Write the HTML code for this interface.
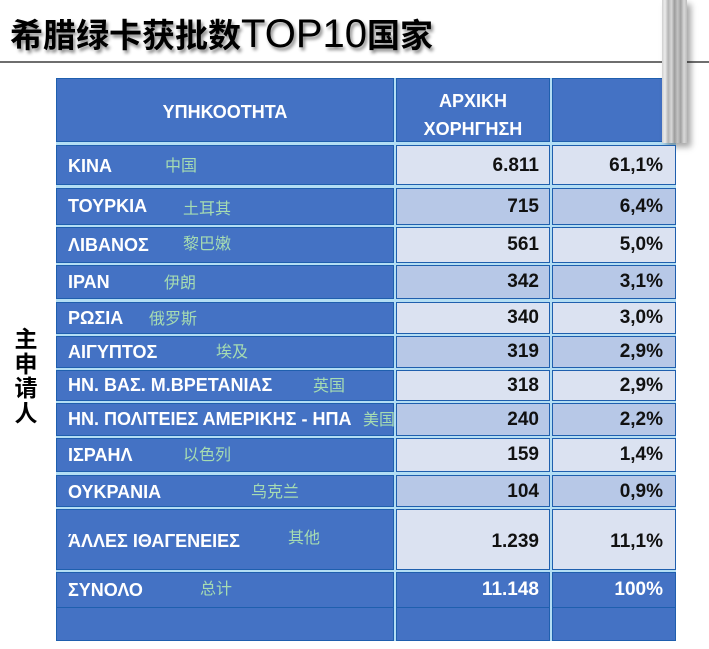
<!DOCTYPE html>
<html><head><meta charset="utf-8">
<style>
html,body{margin:0;padding:0;}
body{width:709px;height:649px;position:relative;background:#fff;overflow:hidden;font-family:"Liberation Sans","Noto Sans CJK SC",sans-serif;}
.abs{position:absolute;}
.title{left:10px;top:9px;height:48px;white-space:nowrap;color:#000;text-shadow:2px 3px 3px rgba(0,0,0,0.45);}
.title .cj{font-family:"Noto Sans CJK SC","WenQuanYi Zen Hei",sans-serif;font-weight:bold;font-size:33px;line-height:48px;}
.title .la{font-family:"Liberation Sans",sans-serif;font-size:40px;line-height:48px;}
.hline{left:0;top:61px;width:709px;height:2px;background:#6e6e6e;}
.bar{left:662px;top:0;width:25px;height:143px;background:linear-gradient(to right,#cfcfcf 0%,#ececec 12%,#b4b4b4 25%,#d8d8d8 38%,#9c9c9c 50%,#c4c4c4 62%,#a2a2a2 75%,#d9d9d9 88%,#bcbcbc 100%);box-shadow:4px 4px 6px rgba(0,0,0,0.35);}
.tbl{left:56px;top:78px;width:620px;height:563px;background:#b3def4;}
.c{position:absolute;box-sizing:border-box;border:1.5px solid #1f5fae;}
.b{background:#4472c4;}
.l{background:#dbe2f1;}
.d{background:#b7c8e7;}
.g{position:absolute;color:#fff;font-weight:bold;font-size:18px;white-space:nowrap;}
.z{position:absolute;color:#a6dcb2;font-size:16px;white-space:nowrap;font-family:"Liberation Sans","Noto Sans CJK SC",sans-serif;margin-top:2px;}
.n{position:absolute;color:#111;font-weight:bold;font-size:19px;text-align:right;white-space:nowrap;}
.w{color:#fff;}
.vert{left:14px;top:325px;width:24px;font-family:"Noto Sans CJK SC",sans-serif;font-size:23px;line-height:24.5px;color:#000;text-align:center;font-weight:bold;}
.hd{position:absolute;color:#fff;font-weight:bold;font-size:18px;text-align:center;}
</style></head><body>

<div class="abs title"><span class="cj">希腊绿卡获批数</span><span class="la">TOP10</span><span class="cj">国家</span></div>
<div class="abs hline"></div>

<div class="abs vert">主<br>申<br>请<br>人</div>

<div class="abs tbl"></div>

<!-- header -->
<div class="c b" style="left:56px;top:78px;width:338px;height:64px;"></div>
<div class="c b" style="left:396px;top:78px;width:154px;height:64px;"></div>
<div class="c b" style="left:552px;top:78px;width:124px;height:64px;"></div>
<div class="hd" style="left:56px;top:101px;width:338px;line-height:22px;">ΥΠΗΚΟΟΤΗΤΑ</div>
<div class="hd" style="left:396px;top:87px;width:154px;line-height:28px;">ΑΡΧΙΚΗ<br>ΧΟΡΗΓΗΣΗ</div>

<div class="abs bar"></div>

<!-- rows -->
<div class="c b" style="left:56px;top:145px;width:338px;height:40px;"></div>
<div class="c l" style="left:396px;top:145px;width:154px;height:40px;"></div>
<div class="c l" style="left:552px;top:145px;width:124px;height:40px;"></div>
<div class="g" style="left:68px;top:146px;line-height:40px;">ΚΙΝΑ</div>
<div class="z" style="left:165px;top:145px;line-height:40px;">中国</div>
<div class="n" style="left:396px;width:143px;top:146px;line-height:40px;">6.811</div>
<div class="n" style="left:552px;width:111px;top:146px;line-height:40px;">61,1%</div>

<div class="c b" style="left:56px;top:188px;width:338px;height:37px;"></div>
<div class="c d" style="left:396px;top:188px;width:154px;height:37px;"></div>
<div class="c d" style="left:552px;top:188px;width:124px;height:37px;"></div>
<div class="g" style="left:68px;top:188px;line-height:37px;">ΤΟΥΡΚΙΑ</div>
<div class="z" style="left:183px;top:189px;line-height:37px;">土耳其</div>
<div class="n" style="left:396px;width:143px;top:188px;line-height:37px;">715</div>
<div class="n" style="left:552px;width:111px;top:188px;line-height:37px;">6,4%</div>

<div class="c b" style="left:56px;top:227px;width:338px;height:36px;"></div>
<div class="c l" style="left:396px;top:227px;width:154px;height:36px;"></div>
<div class="c l" style="left:552px;top:227px;width:124px;height:36px;"></div>
<div class="g" style="left:68px;top:227px;line-height:36px;">ΛΙΒΑΝΟΣ</div>
<div class="z" style="left:183px;top:225px;line-height:36px;">黎巴嫩</div>
<div class="n" style="left:396px;width:143px;top:227px;line-height:36px;">561</div>
<div class="n" style="left:552px;width:111px;top:227px;line-height:36px;">5,0%</div>

<div class="c b" style="left:56px;top:265px;width:338px;height:34px;"></div>
<div class="c d" style="left:396px;top:265px;width:154px;height:34px;"></div>
<div class="c d" style="left:552px;top:265px;width:124px;height:34px;"></div>
<div class="g" style="left:68px;top:265px;line-height:34px;">ΙΡΑΝ</div>
<div class="z" style="left:164px;top:265px;line-height:34px;">伊朗</div>
<div class="n" style="left:396px;width:143px;top:265px;line-height:34px;">342</div>
<div class="n" style="left:552px;width:111px;top:265px;line-height:34px;">3,1%</div>

<div class="c b" style="left:56px;top:302px;width:338px;height:32px;"></div>
<div class="c l" style="left:396px;top:302px;width:154px;height:32px;"></div>
<div class="c l" style="left:552px;top:302px;width:124px;height:32px;"></div>
<div class="g" style="left:68px;top:302px;line-height:32px;">ΡΩΣΙΑ</div>
<div class="z" style="left:149px;top:302px;line-height:32px;">俄罗斯</div>
<div class="n" style="left:396px;width:143px;top:302px;line-height:32px;">340</div>
<div class="n" style="left:552px;width:111px;top:302px;line-height:32px;">3,0%</div>

<div class="c b" style="left:56px;top:336px;width:338px;height:32px;"></div>
<div class="c d" style="left:396px;top:336px;width:154px;height:32px;"></div>
<div class="c d" style="left:552px;top:336px;width:124px;height:32px;"></div>
<div class="g" style="left:68px;top:336px;line-height:32px;">ΑΙΓΥΠΤΟΣ</div>
<div class="z" style="left:216px;top:335px;line-height:32px;">埃及</div>
<div class="n" style="left:396px;width:143px;top:336px;line-height:32px;">319</div>
<div class="n" style="left:552px;width:111px;top:336px;line-height:32px;">2,9%</div>

<div class="c b" style="left:56px;top:370px;width:338px;height:31px;"></div>
<div class="c l" style="left:396px;top:370px;width:154px;height:31px;"></div>
<div class="c l" style="left:552px;top:370px;width:124px;height:31px;"></div>
<div class="g" style="left:68px;top:370px;line-height:31px;">ΗΝ. ΒΑΣ. Μ.ΒΡΕΤΑΝΙΑΣ</div>
<div class="z" style="left:313px;top:369px;line-height:31px;">英国</div>
<div class="n" style="left:396px;width:143px;top:370px;line-height:31px;">318</div>
<div class="n" style="left:552px;width:111px;top:370px;line-height:31px;">2,9%</div>

<div class="c b" style="left:56px;top:403px;width:338px;height:33px;"></div>
<div class="c d" style="left:396px;top:403px;width:154px;height:33px;"></div>
<div class="c d" style="left:552px;top:403px;width:124px;height:33px;"></div>
<div class="g" style="left:68px;top:403px;line-height:33px;">ΗΝ. ΠΟΛΙΤΕΙΕΣ ΑΜΕΡΙΚΗΣ - ΗΠΑ</div>
<div class="z" style="left:363px;top:402px;line-height:33px;">美国</div>
<div class="n" style="left:396px;width:143px;top:403px;line-height:33px;">240</div>
<div class="n" style="left:552px;width:111px;top:403px;line-height:33px;">2,2%</div>

<div class="c b" style="left:56px;top:438px;width:338px;height:34px;"></div>
<div class="c l" style="left:396px;top:438px;width:154px;height:34px;"></div>
<div class="c l" style="left:552px;top:438px;width:124px;height:34px;"></div>
<div class="g" style="left:68px;top:438px;line-height:34px;">ΙΣΡΑΗΛ</div>
<div class="z" style="left:183px;top:437px;line-height:34px;">以色列</div>
<div class="n" style="left:396px;width:143px;top:438px;line-height:34px;">159</div>
<div class="n" style="left:552px;width:111px;top:438px;line-height:34px;">1,4%</div>

<div class="c b" style="left:56px;top:475px;width:338px;height:32px;"></div>
<div class="c d" style="left:396px;top:475px;width:154px;height:32px;"></div>
<div class="c d" style="left:552px;top:475px;width:124px;height:32px;"></div>
<div class="g" style="left:68px;top:476px;line-height:32px;">ΟΥΚΡΑΝΙΑ</div>
<div class="z" style="left:251px;top:475px;line-height:32px;">乌克兰</div>
<div class="n" style="left:396px;width:143px;top:476px;line-height:32px;">104</div>
<div class="n" style="left:552px;width:111px;top:476px;line-height:32px;">0,9%</div>

<div class="c b" style="left:56px;top:509px;width:338px;height:61px;"></div>
<div class="c l" style="left:396px;top:509px;width:154px;height:61px;"></div>
<div class="c l" style="left:552px;top:509px;width:124px;height:61px;"></div>
<div class="g" style="left:68px;top:511px;line-height:61px;">ΆΛΛΕΣ ΙΘΑΓΕΝΕΙΕΣ</div>
<div class="z" style="left:288px;top:506px;line-height:61px;">其他</div>
<div class="n" style="left:396px;width:143px;top:511px;line-height:61px;">1.239</div>
<div class="n" style="left:552px;width:111px;top:511px;line-height:61px;">11,1%</div>

<div class="c b" style="left:56px;top:572px;width:338px;height:36px;"></div>
<div class="c b" style="left:396px;top:572px;width:154px;height:36px;"></div>
<div class="c b" style="left:552px;top:572px;width:124px;height:36px;"></div>
<div class="g" style="left:68px;top:572px;line-height:36px;">ΣΥΝΟΛΟ</div>
<div class="z" style="left:200px;top:570px;line-height:36px;">总计</div>
<div class="n w" style="left:396px;width:143px;top:572px;line-height:36px;">11.148</div>
<div class="n w" style="left:552px;width:111px;top:572px;line-height:36px;">100%</div>

<div class="c b" style="left:56px;top:607px;width:338px;height:34px;"></div>
<div class="c b" style="left:396px;top:607px;width:154px;height:34px;"></div>
<div class="c b" style="left:552px;top:607px;width:124px;height:34px;"></div>

</body></html>
